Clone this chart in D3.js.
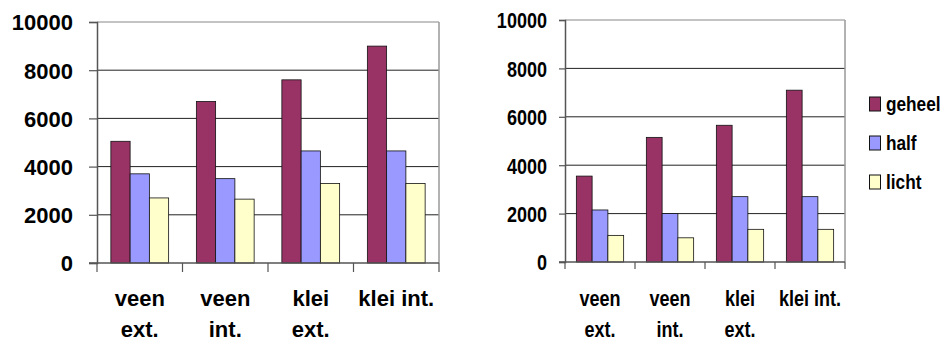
<!DOCTYPE html>
<html>
<head>
<meta charset="utf-8">
<script src="https://cdn.jsdelivr.net/npm/d3@7"></script>
<style>
  html, body { margin: 0; padding: 0; background: #fff; }
  svg { display: block; }
  .lbl { font-family: "Liberation Sans", Arial, sans-serif; font-weight: bold; fill: #000; }
</style>
</head>
<body>
<svg id="chart" width="952" height="345"></svg>
<script>
// categories and series
const categories = [["veen", "ext."], ["veen", "int."], ["klei", "ext."], ["klei int."]];
const series = ["geheel", "half", "licht"];
const colors = ["#993366", "#9999ff", "#ffffcc"];
const yTicks = [0, 2000, 4000, 6000, 8000, 10000];

// left chart values
const leftGeheel = [5050, 6700, 7600, 9000];
const leftHalf = [3700, 3500, 4650, 4650];
const leftLicht = [2700, 2650, 3300, 3300];

// right chart values
const rightGeheel = [3550, 5150, 5650, 7100];
const rightHalf = [2150, 2000, 2700, 2700];
const rightLicht = [1100, 1000, 1350, 1350];

const NARROW = 0.82; // horizontal squeeze of the right chart's text

const svg = d3.select('#chart');

// squeeze a text horizontally around its own anchor
function squeeze(sel, k) {
    sel.each(function() {
        const el = d3.select(this);
        const x = +el.attr('x') || 0;
        el.attr('x', x / k).attr('transform', `scale(${k},1)`);
        el.selectAll('tspan').each(function() {
            const t = d3.select(this);
            t.attr('x', (+t.attr('x') || 0) / k);
        });
    });
}

function drawChart(opts) {
    const values = opts.values;
    const g = svg.append('g');

    const x = d3.scaleBand()
        .domain(d3.range(categories.length))
        .range([opts.x0, opts.x1]);

    const xs = d3.scaleBand()
        .domain(series)
        .range([0, x.bandwidth()])
        .paddingOuter(0.72);

    const y = d3.scaleLinear()
        .domain([0, 10000])
        .range([opts.yBottom, opts.yTop]);

    // gridlines
    g.selectAll('line.grid')
        .data(yTicks.slice(1))
        .enter().append('line')
        .attr('x1', opts.x0).attr('x2', opts.x1)
        .attr('y1', d => y(d)).attr('y2', d => y(d))
        .attr('stroke', d => d === 10000 ? '#888' : '#222')
        .attr('stroke-width', 1);

    // right border of plot area
    g.append('line')
        .attr('x1', opts.x1).attr('x2', opts.x1)
        .attr('y1', opts.yTop).attr('y2', opts.yBottom)
        .attr('stroke', '#999').attr('stroke-width', 1.5);

    // bars
    series.forEach((s, si) => {
        g.selectAll('rect.s' + si)
            .data(values[si])
            .enter().append('rect')
            .attr('x', (d, i) => x(i) + xs(s))
            .attr('y', d => y(d))
            .attr('width', xs.bandwidth())
            .attr('height', d => y(0) - y(d))
            .attr('fill', colors[si])
            .attr('stroke', '#111')
            .attr('stroke-width', 0.8);
    });

    // y axis
    const yAxis = g.append('g')
        .attr('transform', `translate(${opts.x0},0)`)
        .call(d3.axisLeft(y).tickValues(yTicks).tickSize(opts.tick).tickPadding(opts.yPad).tickFormat(d3.format('d')));
    yAxis.select('.domain').attr('stroke', '#555').attr('stroke-width', 1.5);
    yAxis.selectAll('.tick line').attr('stroke', '#555').attr('stroke-width', 1.2);
    const yText = yAxis.selectAll('.tick text')
        .attr('class', 'lbl')
        .style('font-size', opts.font + 'px')
        .attr('dy', '0.36em');

    // x axis
    const xAxis = g.append('g')
        .attr('transform', `translate(0,${opts.yBottom})`);
    xAxis.append('line')
        .attr('x1', opts.x0 - opts.tick).attr('x2', opts.x1)
        .attr('stroke', '#555').attr('stroke-width', 1.5);
    xAxis.selectAll('line.ct')
        .data(d3.range(categories.length + 1))
        .enter().append('line')
        .attr('x1', i => opts.x0 + i * x.step()).attr('x2', i => opts.x0 + i * x.step())
        .attr('y1', 0).attr('y2', opts.tick + 1)
        .attr('stroke', '#555').attr('stroke-width', 1.2);

    const labels = g.selectAll('text.cat')
        .data(categories)
        .enter().append('text')
        .attr('class', 'lbl')
        .style('font-size', opts.font + 'px')
        .attr('text-anchor', 'middle');
    labels.each(function(lines, i) {
        d3.select(this).selectAll('tspan')
            .data(lines)
            .enter().append('tspan')
            .attr('x', x(i) + x.bandwidth() / 2)
            .attr('y', (d, j) => 306 + j * 31)
            .text(d => d);
    });

    if (opts.squeeze) {
        squeeze(yText, opts.squeeze);
        squeeze(labels, opts.squeeze);
    }

    return { g, y };
}

drawChart({
    x0: 97, x1: 439, yTop: 22, yBottom: 263,
    tick: 8, yPad: 16, font: 22,
    values: [leftGeheel, leftHalf, leftLicht]
});

drawChart({
    x0: 565, x1: 845, yTop: 20, yBottom: 262,
    tick: 6, yPad: 12, font: 22, squeeze: NARROW,
    values: [rightGeheel, rightHalf, rightLicht]
});

// legend for the right chart
const legend = svg.append('g').attr('transform', 'translate(869,0)');
const ly = d3.scalePoint().domain(series).range([111, 189]);
legend.selectAll('rect')
    .data(series)
    .enter().append('rect')
    .attr('x', 0.5)
    .attr('y', d => ly(d) - 14)
    .attr('width', 11)
    .attr('height', 14)
    .attr('fill', (d, i) => colors[i])
    .attr('stroke', '#111')
    .attr('stroke-width', 1);
const legendText = legend.selectAll('text')
    .data(series)
    .enter().append('text')
    .attr('class', 'lbl')
    .style('font-size', '21px')
    .attr('x', 17)
    .attr('y', d => ly(d))
    .text(d => d);
squeeze(legendText, NARROW);
</script>
</body>
</html>
